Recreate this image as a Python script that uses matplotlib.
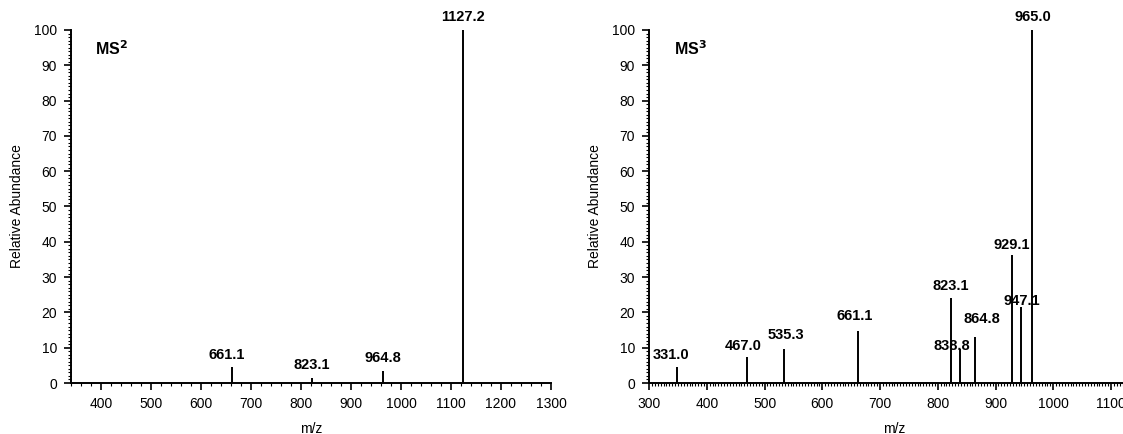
import matplotlib.pyplot as plt
from matplotlib.ticker import MultipleLocator

plt.rcParams["font.family"] = ["Liberation Sans", "DejaVu Sans"]
plt.rcParams["font.size"] = 10

# MS2 spectrum
ms2_mz = [662, 822, 964, 1124]
ms2_int = [4.5, 1.5, 3.4, 100]
ms2_lab = ["661.1", "823.1", "964.8", "1127.2"]

# MS3 spectrum
ms3_mz = [348, 470, 534, 661, 822.5, 838, 865, 928, 945, 964]
ms3_int = [4.5, 7.4, 9.6, 14.7, 24, 9.6, 13, 36.3, 21.5, 100]
ms3_lab = ["331.0", "467.0", "535.3", "661.1", "823.1", "838.8",
           "864.8", "929.1", "947.1", "965.0"]

# label offsets in points (dx, dy) to mimic the original placement
ms2_off = {"661.1": (-4, 4)}
ms3_off = {"331.0": (-4, 4), "467.0": (-3, 3), "535.3": (1, 5),
           "661.1": (-2, 6), "838.8": (-6, -3), "864.8": (5, 8),
           "929.1": (0, 2), "947.1": (0, -1)}


def draw_spectrum(ax, mz, inten, labels, offsets, title, xlim, xminor):
    ax.vlines(mz, 0, inten, color="black", linewidth=1.4)
    for x, y, lab in zip(mz, inten, labels):
        dx, dy = offsets.get(lab, (0, 4))
        ax.annotate(lab, (x, y), xytext=(dx, dy), textcoords="offset points",
                    ha="center", va="bottom", fontweight="bold", fontsize=10.5)

    ax.set_xlim(*xlim)
    ax.set_ylim(0, 100)
    ax.xaxis.set_major_locator(MultipleLocator(100))
    ax.xaxis.set_minor_locator(MultipleLocator(xminor))
    ax.yaxis.set_major_locator(MultipleLocator(10))
    ax.yaxis.set_minor_locator(MultipleLocator(1))
    ax.tick_params(which="major", direction="out", length=5, width=1.2, pad=5)
    ax.tick_params(which="minor", direction="out", length=2.5, width=0.8)

    for side in ["top", "right"]:
        ax.spines[side].set_visible(False)
    for side in ["left", "bottom"]:
        ax.spines[side].set_linewidth(1.4)

    ax.set_xlabel("m/z", labelpad=8)
    ax.set_ylabel("Relative Abundance", labelpad=7)
    ax.text(0.05, 0.975, title, transform=ax.transAxes, fontsize=11.5,
            fontweight="bold", ha="left", va="top")


fig = plt.figure(figsize=(11.23, 4.34), dpi=100)
ax1 = fig.add_axes([0.0632, 0.1175, 0.4274, 0.8134])
ax2 = fig.add_axes([0.578, 0.1175, 0.437, 0.8134])

draw_spectrum(ax1, ms2_mz, ms2_int, ms2_lab, ms2_off, r"MS$^\mathbf{2}$",
              (340, 1300), 20)
draw_spectrum(ax2, ms3_mz, ms3_int, ms3_lab, ms3_off, r"MS$^\mathbf{3}$",
              (300, 1150), 5)

fig.savefig("out.png", dpi=100)
